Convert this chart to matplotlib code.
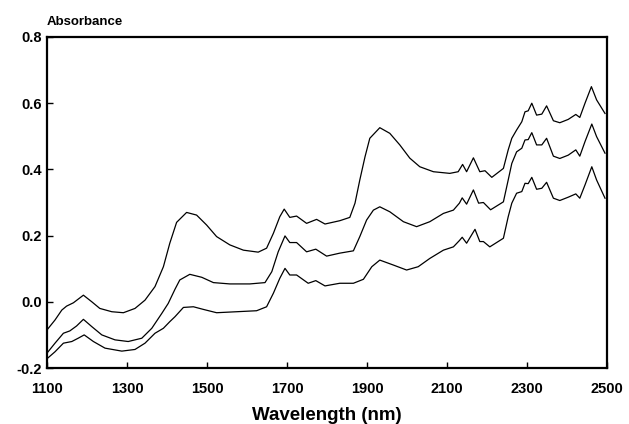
import matplotlib
matplotlib.use("Agg")
import matplotlib.pyplot as plt

# top spectrum
wl_top = [1100, 1120, 1137, 1149, 1166, 1191, 1212, 1232, 1262, 1291, 1320, 1345, 1370, 1391,
          1407, 1424, 1449, 1474, 1499, 1524, 1557, 1591, 1628, 1649, 1666, 1682, 1693, 1707,
          1724, 1749, 1774, 1795, 1832, 1857, 1870, 1882, 1895, 1907, 1932, 1957, 1982, 2007,
          2032, 2066, 2107, 2128, 2139, 2149, 2166, 2182, 2195, 2212, 2241, 2253, 2262, 2274,
          2287, 2295, 2303, 2312, 2324, 2337, 2349, 2366, 2382, 2403, 2422, 2432, 2445, 2461,
          2474, 2495]
ab_top = [-0.085, -0.055, -0.025, -0.013, -0.003, 0.020, 0.000, -0.020, -0.030, -0.033, -0.020,
          0.005, 0.046, 0.106, 0.177, 0.240, 0.270, 0.262, 0.232, 0.197, 0.172, 0.156, 0.150,
          0.162, 0.207, 0.257, 0.280, 0.255, 0.259, 0.237, 0.249, 0.235, 0.245, 0.255, 0.298,
          0.368, 0.438, 0.494, 0.526, 0.509, 0.474, 0.434, 0.408, 0.393, 0.388, 0.393, 0.415,
          0.393, 0.435, 0.393, 0.396, 0.376, 0.403, 0.459, 0.494, 0.519, 0.544, 0.574, 0.577,
          0.600, 0.564, 0.567, 0.592, 0.547, 0.541, 0.551, 0.566, 0.557, 0.600, 0.650, 0.610,
          0.569]

# middle spectrum
wl_mid = [1100, 1120, 1141, 1157, 1174, 1191, 1212, 1237, 1270, 1303, 1337, 1362, 1387, 1403,
          1420, 1432, 1457, 1487, 1516, 1557, 1607, 1645, 1662, 1678, 1695, 1707, 1724, 1749,
          1772, 1799, 1832, 1866, 1882, 1899, 1916, 1932, 1957, 1991, 2024, 2057, 2091, 2116,
          2131, 2138, 2149, 2166, 2179, 2191, 2209, 2241, 2253, 2262, 2274, 2287, 2295, 2303,
          2312, 2324, 2337, 2349, 2366, 2382, 2403, 2422, 2432, 2445, 2462, 2474, 2495]
ab_mid = [-0.155, -0.125, -0.095, -0.088, -0.073, -0.053, -0.075, -0.100, -0.115, -0.120, -0.110,
          -0.080, -0.035, -0.005, 0.038, 0.066, 0.083, 0.074, 0.058, 0.054, 0.054, 0.058, 0.091,
          0.151, 0.199, 0.179, 0.179, 0.151, 0.159, 0.138, 0.147, 0.154, 0.197, 0.247, 0.277,
          0.287, 0.272, 0.242, 0.227, 0.242, 0.267, 0.277, 0.298, 0.314, 0.295, 0.338, 0.298,
          0.300, 0.278, 0.302, 0.368, 0.418, 0.453, 0.464, 0.489, 0.490, 0.511, 0.474, 0.474,
          0.494, 0.440, 0.433, 0.443, 0.459, 0.440, 0.484, 0.537, 0.499, 0.449]

# bottom spectrum
wl_bot = [1100, 1120, 1141, 1162, 1178, 1193, 1216, 1245, 1287, 1320, 1345, 1370, 1391, 1407,
          1420, 1441, 1466, 1491, 1524, 1574, 1624, 1649, 1666, 1682, 1695, 1707, 1724, 1753,
          1772, 1795, 1832, 1866, 1891, 1912, 1932, 1966, 1999, 2028, 2057, 2091, 2116, 2131,
          2138, 2149, 2170, 2182, 2191, 2207, 2241, 2253, 2262, 2274, 2287, 2295, 2303, 2312,
          2324, 2337, 2349, 2366, 2382, 2403, 2422, 2432, 2445, 2462, 2474, 2495]
ab_bot = [-0.172, -0.151, -0.125, -0.120, -0.110, -0.100, -0.120, -0.140, -0.149, -0.144, -0.125,
          -0.095, -0.080, -0.060, -0.045, -0.017, -0.015, -0.023, -0.033, -0.030, -0.027, -0.015,
          0.026, 0.071, 0.101, 0.081, 0.081, 0.056, 0.064, 0.048, 0.056, 0.056, 0.068, 0.106,
          0.126, 0.111, 0.096, 0.106, 0.131, 0.156, 0.166, 0.185, 0.195, 0.177, 0.219, 0.182,
          0.182, 0.166, 0.192, 0.257, 0.298, 0.328, 0.333, 0.358, 0.357, 0.376, 0.340, 0.343,
          0.361, 0.313, 0.306, 0.316, 0.326, 0.313, 0.353, 0.408, 0.368, 0.313]

x_ticks = [1100, 1300, 1500, 1700, 1900, 2100, 2300, 2500]
y_ticks = [-0.2, 0.0, 0.2, 0.4, 0.6, 0.8]
y_labels = ['-0.2', '0.0', '0.2', '0.4', '0.6', '0.8']

plt.rcParams['font.family'] = ['Liberation Sans', 'DejaVu Sans']

fig = plt.figure(figsize=(6.29, 4.24), dpi=100)
ax = fig.add_axes([47 / 629, 56 / 424, 560 / 629, 331 / 424])

for wl, ab in [(wl_top, ab_top), (wl_mid, ab_mid), (wl_bot, ab_bot)]:
    ax.plot(wl, ab, color='black', linewidth=0.9)

ax.set_xlim(1100, 2500)
ax.set_ylim(-0.2, 0.8)
ax.set_xticks(x_ticks)
ax.set_yticks(y_ticks)
ax.set_xticklabels([str(t) for t in x_ticks], fontweight='bold', fontsize=10.5)
ax.set_yticklabels(y_labels, fontweight='bold', fontsize=10.5)
ax.tick_params(direction='in', length=4, width=1)
ax.tick_params(axis='x', pad=10)
ax.tick_params(axis='y', pad=3.5)

for s in ax.spines.values():
    s.set_linewidth(1.6)

ax.set_xlabel('Wavelength (nm)', fontweight='bold', fontsize=13.5, labelpad=8)
fig.text(47 / 629, 1 - 22 / 424, 'Absorbance', fontweight='bold', fontsize=9.5,
         ha='left', va='center')

fig.savefig('out.png', dpi=100)
